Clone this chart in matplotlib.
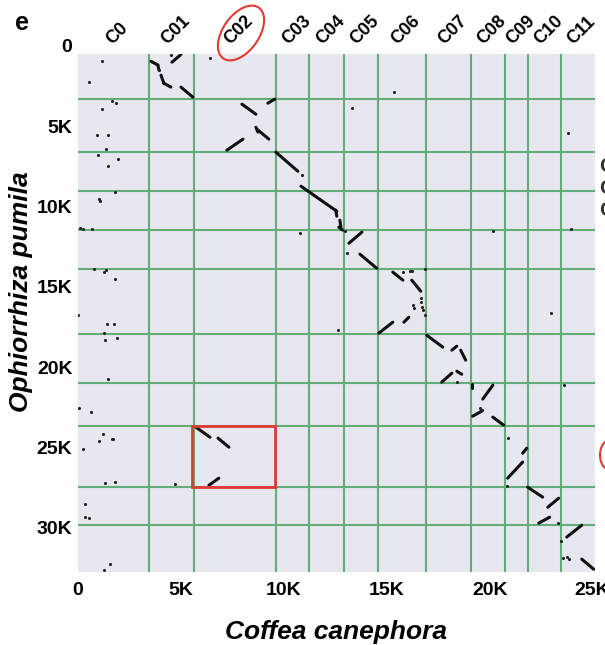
import numpy as np
import matplotlib.pyplot as plt
from matplotlib.patches import Rectangle, Ellipse
from matplotlib.collections import LineCollection
import matplotlib.transforms as mtransforms

plt.rcParams['font.family'] = ['Liberation Sans', 'DejaVu Sans']

# chromosome names and boundaries (in K bp)
chrom_names = ['C0', 'C01', 'C02', 'C03', 'C04', 'C05', 'C06', 'C07', 'C08', 'C09', 'C10', 'C11']
x_bounds = [0, 3.45, 5.63, 9.61, 11.21, 12.91, 14.56, 16.89, 19.08, 20.73, 21.84, 23.45, 25.1]
y_bounds = [2.80, 6.10, 8.53, 10.96, 13.39, 17.43, 20.49, 23.16, 26.96, 29.33]
x_max = 25.1
y_max = 32.25

# synteny segments: x0, y0, x1, y1 (K bp)
seg_x0 = [3.54, 3.88, 4.03, 4.17, 5.00, 4.56, 7.96, 9.22, 8.69, 8.64, 7.23, 9.61, 10.83, 12.52,
          12.72, 12.67, 13.16, 13.69, 15.29, 16.21, 14.61, 15.83, 16.94, 18.16, 18.59, 17.67,
          18.40, 19.13, 19.66, 19.17, 20.15, 21.60, 20.87, 21.84, 22.82, 22.38, 23.74, 24.47,
          5.73, 6.80, 6.36]
seg_y0 = [0.44, 0.68, 1.31, 1.81, 2.05, 0.50, 3.11, 3.05, 4.67, 4.55, 5.98, 6.10, 8.22, 9.71,
          10.34, 10.77, 11.77, 12.45, 13.57, 14.07, 17.37, 16.69, 17.50, 18.43, 18.43, 20.42,
          19.74, 20.55, 21.48, 22.54, 22.60, 24.85, 26.40, 26.96, 28.21, 29.20, 30.07, 31.44,
          23.23, 23.91, 26.84]
seg_x1 = [3.88, 3.93, 4.17, 4.51, 5.58, 5.00, 8.64, 9.56, 9.27, 8.74, 8.01, 10.68, 12.57, 12.57,
          12.77, 12.86, 13.79, 14.51, 15.78, 16.65, 15.29, 16.07, 17.72, 18.40, 18.83, 18.16,
          18.64, 19.13, 20.15, 19.61, 20.68, 21.80, 21.60, 22.57, 23.35, 22.91, 24.47, 25.05,
          6.41, 7.33, 6.84]
seg_y1 = [0.68, 1.00, 1.81, 2.05, 2.68, 0.02, 3.74, 2.80, 5.29, 4.85, 5.29, 7.29, 9.78, 10.09,
          10.77, 10.96, 11.08, 13.33, 14.07, 14.76, 16.69, 16.38, 18.24, 18.18, 19.05, 19.86,
          19.93, 20.80, 20.61, 22.23, 23.10, 24.53, 25.40, 27.58, 27.65, 28.83, 29.33, 32.07,
          23.85, 24.47, 26.40]

# scattered hits (K bp)
dot_x = [1.17, 0.53, 1.65, 1.84, 1.17, 0.92, 1.46, 1.36, 0.97, 1.94, 1.46, 1.80, 1.07, 1.02,
         0.10, 0.24, 0.68, 0.78, 1.36, 1.26, 1.80, 0.00, 1.41, 1.75, 1.26, 1.89, 1.31, 1.46,
         0.05, 0.63, 1.21, 1.02, 1.65, 1.70, 0.24, 1.31, 1.80, 0.34, 0.34, 0.53, 1.55, 1.26,
         4.51, 6.41, 15.34, 13.30, 10.87, 10.78, 12.62, 13.06, 15.78, 16.12, 16.21, 16.84,
         16.65, 16.65, 16.70, 16.75, 16.84, 16.26, 16.31, 20.15, 23.93, 23.79, 22.96, 23.59,
         20.87, 20.83, 18.40, 23.30, 23.45, 23.54, 23.74, 23.83, 4.71, 19.51, 19.61, 12.77,
         12.96, 3.93]
dot_y = [0.44, 1.74, 2.93, 3.05, 3.42, 5.04, 5.04, 5.92, 6.29, 6.54, 6.97, 8.59, 9.15, 9.00,
         10.83, 10.90, 10.90, 13.39, 13.45, 13.57, 14.01, 16.25, 16.81, 16.81, 17.37, 17.68,
         17.81, 20.24, 22.04, 22.29, 23.66, 24.10, 23.97, 23.97, 24.60, 26.71, 26.65, 28.02,
         28.83, 28.89, 31.76, 32.13,
         0.05, 0.25, 2.37, 3.36, 7.53, 11.15, 17.19, 12.39, 13.57, 13.51, 13.51, 13.39,
         15.19, 15.44, 15.75, 15.94, 16.25, 15.63, 15.82, 11.02, 10.90, 4.92, 16.13, 20.61,
         23.91, 26.90, 20.42, 29.20, 30.32, 31.38, 31.32, 31.44, 26.78, 22.04, 22.17, 10.90,
         11.00, 1.00]

# highlighted region (K bp)
box_x = [5.55, 9.55]
box_y = [23.16, 26.96]

fig = plt.figure(figsize=(6.05, 6.45), dpi=100)
ax = fig.add_axes([0.129, 0.113, 0.854, 0.803])
ax.set_facecolor('#e7e7ef')
for s in ax.spines.values():
    s.set_visible(False)

green = '#62ad78'
for xb in x_bounds[1:-1]:
    ax.axvline(xb, color=green, lw=1.5, zorder=1)
for yb in y_bounds:
    ax.axhline(yb, color=green, lw=1.5, zorder=1)

segs = [[(a, b), (c, d)] for a, b, c, d in zip(seg_x0, seg_y0, seg_x1, seg_y1)]
ax.add_collection(LineCollection(segs, colors='#111111', linewidths=2.2, capstyle='round', zorder=3))
ax.scatter(dot_x, dot_y, s=5, color='#222222', zorder=3, linewidths=0)

ax.add_patch(Rectangle((box_x[0], box_y[0]), box_x[1] - box_x[0], box_y[1] - box_y[0],
                       fill=False, edgecolor='#e03a35', lw=2, zorder=4))

ax.set_xlim(0, x_max)
ax.set_ylim(y_max, 0)

ax.set_xticks([0, 5, 10, 15, 20, 25])
ax.set_xticklabels(['0', '5K', '10K', '15K', '20K', '25K'], fontsize=14, fontweight='bold')
ax.set_yticks([0, 5, 10, 15, 20, 25, 30])
ax.set_yticklabels(['0', '5K', '10K', '15K', '20K', '25K', '30K'], fontsize=14, fontweight='bold')
ax.tick_params(axis='x', length=0, pad=7)
ax.tick_params(axis='y', length=0, pad=4)
off = mtransforms.ScaledTranslation(0, 6 / 72, fig.dpi_scale_trans)
for lab in ax.get_yticklabels():
    lab.set_transform(lab.get_transform() + off)

# chromosome labels on top
for i, name in enumerate(chrom_names):
    mid = (x_bounds[i] + x_bounds[i + 1]) / 2
    ax.text(mid + 0.2, 1.012, name, transform=ax.get_xaxis_transform(), rotation=45,
            ha='center', va='bottom', fontsize=13, fontweight='bold', clip_on=False)

fig.add_artist(Ellipse((2.41, 6.12), 0.62, 0.36, angle=55, fill=False,
                       edgecolor='#e03a35', lw=1.5, transform=fig.dpi_scale_trans))

ax.set_xlabel('Coffea canephora', fontsize=19, fontweight='bold', style='italic', va='center')
ax.xaxis.set_label_coords(0.5, -0.116)
ax.set_ylabel('Ophiorrhiza pumila', fontsize=19, fontweight='bold', style='italic', va='center')
ax.yaxis.set_label_coords(-0.11, 0.542)

fig.text(0.025, 0.965, 'e', fontsize=18, fontweight='bold', va='center')

# edge of neighbouring panel
for yy in [0.742, 0.708, 0.673]:
    fig.text(0.991, yy, 'C', fontsize=15, fontweight='bold', va='center', color='#333333')
fig.add_artist(Ellipse((6.10, 6.45 - 4.55), 0.2, 0.3, fill=False, edgecolor='#e03a35',
                       lw=1.5, transform=fig.dpi_scale_trans))

fig.savefig('out.png', dpi=100)
